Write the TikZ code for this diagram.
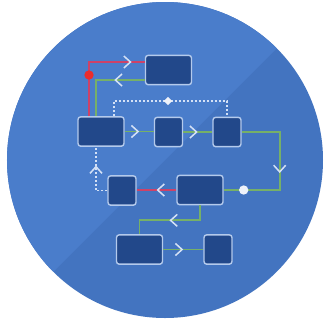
\documentclass[tikz,border=0pt]{standalone}
\usetikzlibrary{arrows.meta, calc, decorations.markings, shapes.geometric}
\definecolor{bglight}{RGB}{74,125,203}
\definecolor{bgdark}{RGB}{67,116,192}
\definecolor{boxfill}{RGB}{34,72,138}
\definecolor{boxline}{RGB}{180,202,236}
\definecolor{flowgreen}{RGB}{118,176,104}
\definecolor{flowpink}{RGB}{206,66,104}
\definecolor{chevron}{RGB}{212,225,246}
\definecolor{reddot}{RGB}{236,44,44}
\definecolor{whitedot}{RGB}{238,242,250}
\begin{document}
\begin{tikzpicture}[x=0.3mm, y=-0.3mm,
  bigbox/.style={draw=boxline, line width=1.2pt, fill=boxfill, rounded corners=0.8mm, minimum width=13.8mm, minimum height=8.8mm, inner sep=0pt},
  smallbox/.style={bigbox, minimum width=8.4mm},
  greenline/.style={draw=flowgreen, line width=1.5pt},
  pinkline/.style={draw=flowpink, line width=1.5pt},
  dotline/.style={draw=chevron, line width=1.6pt, dash pattern=on 0.6mm off 0.6mm},
  chev at/.style={postaction={decorate, decoration={markings, mark=at position #1 with {\arrow[color=chevron]{Straight Barb[length=2mm, width=3.6mm, line width=1.3pt]}}}}}]
\useasboundingbox (0,0) rectangle (328,323);
\fill[white] (0,0) rectangle (328,323);
\fill[bgdark] (165,160) circle (47.4mm);
\begin{scope}
  \clip (165,160) circle (47.4mm);
  \fill[bglight] (0,0) -- (325,0) -- (0,325) -- cycle;
\end{scope}

\node[bigbox] (top) at (168.5,70) {};
\node[bigbox] (start) at (101,131.5) {};
\node[smallbox] (stepb) at (168.5,132) {};
\node[smallbox] (stepc) at (227,132) {};
\node[bigbox] (merge) at (200,190) {};
\node[smallbox] (back) at (122,190.5) {};
\node[bigbox] (endf) at (139.5,249.5) {};
\node[smallbox] (endg) at (218,249.5) {};
\coordinate (gatept) at (168,101);

\draw[pinkline, chev at=0.88] ($(start.north)+(-12,0)$) |- ($(top.west)+(0,-8)$);
\draw[greenline, chev at=0.36] ($(top.west)+(0,10)$) -| ($(start.north)+(-5,0)$);
\draw[dotline] ($(start.north)+(13,0)$) |- (gatept) -| (stepc.north);
\draw[greenline, chev at=0.5] (start.east) -- (start.east -| stepb.west);
\draw[greenline, chev at=0.5] (stepb.east) -- (stepc.west);
\draw[greenline, chev at=0.52] (stepc.east) -- ++(38,0) |- (merge.east);
\draw[pinkline, chev at=0.5] (merge.west) -- (merge.west -| back.east);
\draw[dotline, chev at=0.66] (back.west) -| ($(start.south)+(-5,0)$);
\draw[greenline, chev at=0.51] (merge.south) -- ++(0,15) -| (endf.north);
\draw[greenline, chev at=0.5] (endf.east) -- (endg.west);

\node[circle, fill=reddot, minimum size=2.8mm, inner sep=0pt] (alarm) at (89,75) {};
\node[circle, fill=whitedot, minimum size=2.8mm, inner sep=0pt] (probe) at ($(merge.east)+(20,0)$) {};
\node[diamond, fill=whitedot, minimum size=2.6mm, inner sep=0pt] (gate) at (gatept) {};
\end{tikzpicture}
\end{document}
